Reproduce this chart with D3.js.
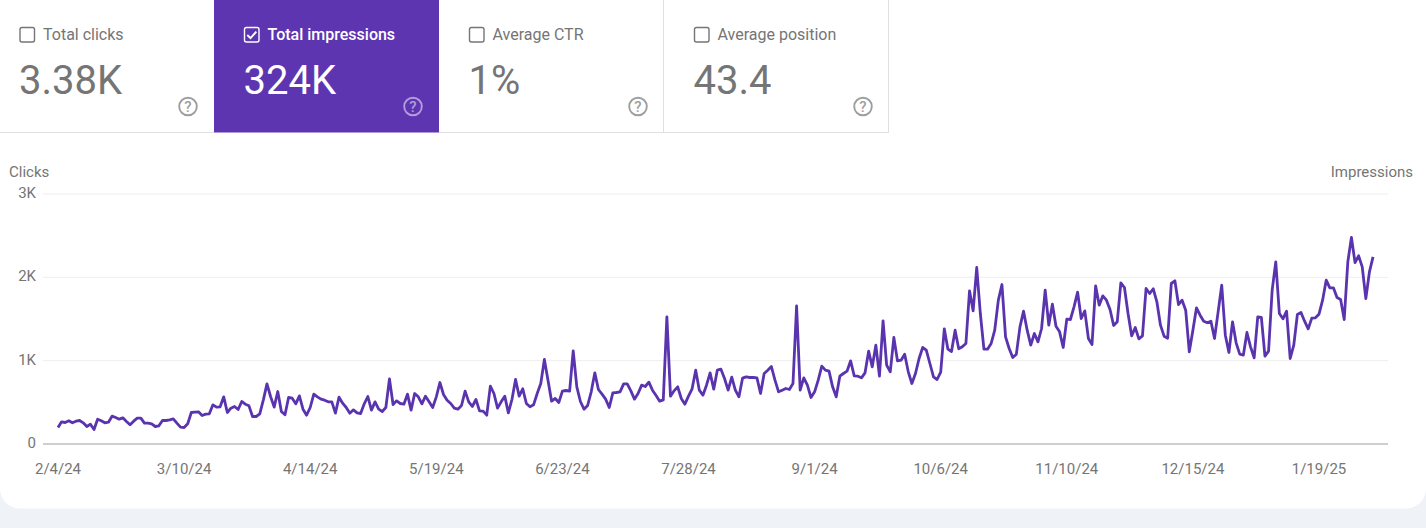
<!DOCTYPE html>
<html><head><meta charset="utf-8">
<script src="https://cdn.jsdelivr.net/npm/d3@7"></script>
<style>
html,body{margin:0;padding:0;background:#fff;overflow:hidden}
text{font-family:Roboto,sans-serif}
</style></head><body>
<svg id="c" width="1426" height="528"></svg>
<script>
const cardLabels=["Total clicks","Total impressions","Average CTR","Average position"];
const cardValues=["3.38K","324K","1%","43.4"];
const cardSelected=[false,true,false,false];
const xTickDates=["2024-02-04","2024-03-10","2024-04-14","2024-05-19","2024-06-23","2024-07-28","2024-09-01","2024-10-06","2024-11-10","2024-12-15","2025-01-19"];
const yTicks=[0,1000,2000,3000];
const impressionsPart1=[192,260,252,272,248,268,276,248,204,232,168,292,272,248,256,328,312,292,308,264,224,268,304,304,244,244,236,204,212,276,276,284,296,244,196,192,236,
372,376,380,336,352,356,464,436,440,560,372,424,444,408,504,472,452,324,324,356,524,716,564,436,624,384,344,552,544,476,572,412,340,432,592,560,532,520,500,500,364,556,484,432,364,404,368,360,476,564,400,500,412];
const impressionsPart2=[384,432,776,468,512,480,472,592,400,600,560,476,568,500,432,560,732,588,520,480,424,412,456,628,500,444,528,392,388,340,688,600,424,500,568,368,528,768,568,656,480,440,464,600,720,1008,760,508,540,492,628,636,628,1112,680,504,412,456,620,848,648,592,532,432,608,612,620,716,716,632,532,600,700,684,736,640,576,508,524,1520];
const impressionsPart3=[568,632,680,540,472,568,656,880,640,580,700,848,652,880,892,780,640,796,640,560,784,800,792,792,788,600,840,880,924,760,620,640,660,648,720,1650,640,788,700,552,620,760,928,880,868,680,560,808,840,868,992,812,808,788,848,1108,920,1180,808,1472,940,860,1272,992,1000,1072,860,720,840,1020,1152];
const impressionsPart4=[1120,960,800,768,856,1376,1132,1104,1360,1136,1160,1200,1832,1592,2112,1560,1132,1132,1200,1360,1720,1908,1280,1140,1032,1072,1400,1588,1360,1180,1320,1220,1380,1840,1420,1672,1408,1340,1152,1492,1488,1640,1816,1500,1592,1260,1188,1892,1660,1772,1720,1608,1416,1460,1928,1872,1560,1292,1392,1256,1292,1860,1800,1856];
const impressionsPart5=[1700,1420,1288,1264,1920,1952,1668,1720,1600,1100,1360,1628,1540,1468,1448,1468,1260,1580,1900,1300,1092,1460,1208,1072,1060,1332,1160,1028,1520,1512,1048,1108,1840,2180,1560,1496,1588,1020,1180,1548,1572,1468,1376,1504,1508,1552,1720,1960,1868,1868,1752,1728,1488,2180,2472,2172,2252,2120,1740,2060,2240];
const impressions=[...impressionsPart1,...impressionsPart2,...impressionsPart3,...impressionsPart4,...impressionsPart5];

const parse=d3.utcParse("%Y-%m-%d");
const start=parse(xTickDates[0]);
const data=impressions.map((v,i)=>({date:d3.utcDay.offset(start,i),value:v}));
const svg=d3.select("#c");
const grey="#757575", purple="#5e35b1";

svg.append("rect").attr("width",1426).attr("height",528).attr("fill","#eff3f8");
svg.append("rect").attr("x",0).attr("y",-40).attr("width",1426).attr("height",548.5).attr("rx",20).attr("fill","#fff");

// cards
const cards=svg.selectAll("g.card").data(cardLabels).join("g").attr("class","card");
cards.each(function(label,i){
  const g=d3.select(this), sel=cardSelected[i], x0=i===0?0:214+(i-1)*225;
  const w=i===0?214:225, fg=sel?"#fff":grey;
  g.append("rect").attr("x",x0).attr("y",0).attr("width",w).attr("height",132.5).attr("fill",sel?purple:"#fff");
  if(!sel){
    g.append("line").attr("x1",x0).attr("x2",x0+w).attr("y1",132.5).attr("y2",132.5).attr("stroke","#e0e0e0");
    if(i>1) g.append("line").attr("x1",x0+w-.5).attr("x2",x0+w-.5).attr("y1",0).attr("y2",132.5).attr("stroke","#e0e0e0");
  }
  const bx=x0+(i===0?20:30.5);
  g.append("rect").attr("x",bx).attr("y",27.5).attr("width",14.5).attr("height",14.5).attr("rx",2)
    .attr("fill",sel?purple:"#fff").attr("stroke",sel?"#fff":grey).attr("stroke-width",1.4);
  if(sel) g.append("path").attr("d",`M${bx+2.8} ${35}l3.2 3.2l5.8 -6.6`).attr("fill","none").attr("stroke","#fff").attr("stroke-width",1.9);
  g.append("text").attr("x",bx+23).attr("y",39.5).attr("font-size",16).attr("fill",sel?"#fff":grey).attr("font-weight",sel?500:400).text(label);
  g.append("text").attr("x",bx-1).attr("y",94).attr("font-size",40).attr("fill",fg).text(cardValues[i]);
  const hx=x0+(i===0?188:199), hc=sel?"#b39ddb":"#9e9e9e";
  g.append("circle").attr("cx",hx).attr("cy",106.5).attr("r",8.8).attr("fill","none").attr("stroke",hc).attr("stroke-width",1.9);
  g.append("text").attr("x",hx).attr("y",112).attr("text-anchor","middle").attr("font-size",15).attr("font-weight",500).attr("fill",hc).text("?");
});

// chart
const x=d3.scaleUtc().domain([start,parse(xTickDates[xTickDates.length-1])]).range([58,1319]);
const y=d3.scaleLinear().domain([0,3000]).range([443.5,193.5]);
const xAxis=d3.axisBottom(x).tickValues(xTickDates.map(parse)).tickFormat(d3.utcFormat("%-m/%-d/%y")).tickSize(0).tickPadding(20);
const yAxis=d3.axisLeft(y).tickValues(yTicks).tickFormat(d=>d===0?"0":(d/1000)+"K").tickSize(-1345).tickPadding(7);

const gy=svg.append("g").attr("transform","translate(43,0)").call(yAxis);
gy.select(".domain").remove();
gy.selectAll("line").attr("stroke",d=>d===0?"#9e9e9e":"#eeeeee").attr("stroke-width",1);
gy.selectAll("text").attr("font-size",15).attr("fill",grey).attr("font-family","Roboto").attr("y",-0.8);

const gx=svg.append("g").attr("transform","translate(-0.5,443.5)").call(xAxis);
gx.select(".domain").remove();
gx.selectAll("text").attr("font-size",15).attr("fill",grey).attr("font-family","Roboto");

svg.append("text").attr("x",9).attr("y",177).attr("font-size",15).attr("fill",grey).text("Clicks");
svg.append("text").attr("x",1413).attr("y",177).attr("text-anchor","end").attr("font-size",15).attr("fill",grey).text("Impressions");

svg.append("path").datum(data).attr("fill","none").attr("stroke","#5a34ae").attr("stroke-width",2.8).attr("stroke-linejoin","round")
  .attr("d",d3.line().x(d=>x(d.date)).y(d=>y(d.value)));
</script>
</body></html>
